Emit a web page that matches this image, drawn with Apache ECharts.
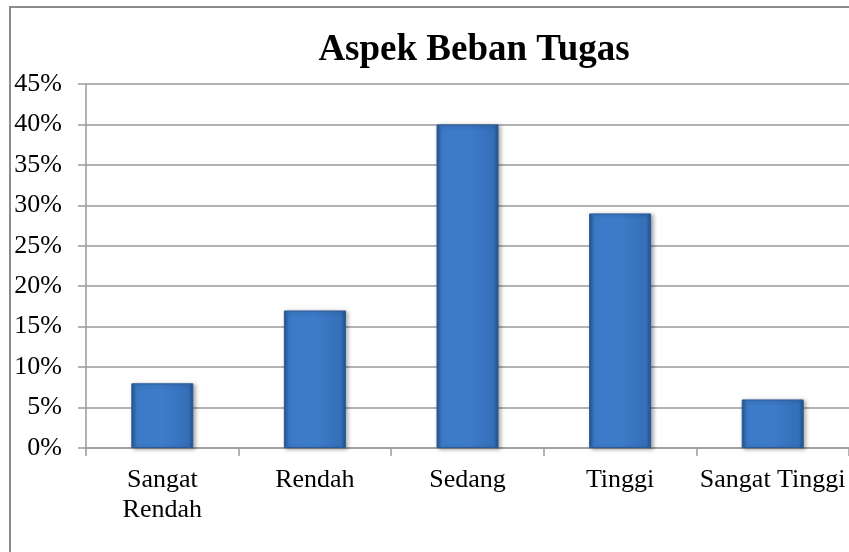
<!DOCTYPE html>
<html>
<head>
<meta charset="utf-8">
<script src="https://cdn.jsdelivr.net/npm/echarts@6/dist/echarts.min.js"></script>
<style>
  html, body { margin: 0; padding: 0; background: #fff; }
  #chart { width: 849px; height: 552px; }
</style>
</head>
<body>
<div id="chart"></div>
<script>
// data
const chartTitle = 'Aspek Beban Tugas'
const categories = ['Sangat\nRendah', 'Rendah', 'Sedang', 'Tinggi', 'Sangat Tinggi']
const percentValues = [8, 17, 40, 29, 6]
const yMax = 45
const yStep = 5

const serif = '"Liberation Serif", "DejaVu Serif", serif'
const gridColor = '#9a9a9a'

const barFill = new echarts.graphic.LinearGradient(0, 0, 1, 0, [
  { offset: 0, color: '#25548f' },
  { offset: 0.08, color: '#3c7ac7' },
  { offset: 0.5, color: '#3e7cca' },
  { offset: 0.92, color: '#346fb8' },
  { offset: 1, color: '#22508a' }
])

const chart = echarts.init(document.getElementById('chart'), null, { renderer: 'canvas' })

const option = {
  animation: false,
  backgroundColor: '#fff',
  title: {
    text: chartTitle,
    left: 469,
    top: 27,
    textAlign: 'center',
    textStyle: {
      fontFamily: serif,
      fontSize: 37,
      fontWeight: 'bold',
      color: '#000'
    }
  },
  graphic: [{
    type: 'rect',
    shape: { x: 10, y: 7, width: 900, height: 600 },
    style: { fill: 'none', stroke: '#8c8c8c', lineWidth: 2 },
    z: 100
  }],
  grid: {
    left: 86,
    top: 84,
    right: -4,
    bottom: 104,
    containLabel: false
  },
  xAxis: {
    type: 'category',
    data: categories,
    axisLine: { show: true, lineStyle: { color: gridColor, width: 1.5 } },
    axisTick: { show: true, length: 8, alignWithLabel: false, lineStyle: { color: gridColor, width: 1.5 } },
    axisLabel: {
      interval: 0,
      margin: 17,
      color: '#000',
      fontFamily: serif,
      fontSize: 26,
      lineHeight: 30
    }
  },
  yAxis: {
    type: 'value',
    min: 0,
    max: yMax,
    interval: yStep,
    axisLine: { show: true, lineStyle: { color: gridColor, width: 1.5 } },
    axisTick: { show: true, length: 8, lineStyle: { color: gridColor, width: 1.5 } },
    splitLine: { show: true, lineStyle: { color: gridColor, width: 1.5 } },
    axisLabel: {
      margin: 24,
      color: '#000',
      fontFamily: serif,
      fontSize: 26,
      formatter: '{value}%'
    }
  },
  series: [{
    type: 'bar',
    data: percentValues,
    barWidth: 62,
    itemStyle: {
      color: barFill,
      borderColor: '#2a5a98',
      borderWidth: 1,
      shadowBlur: 4,
      shadowOffsetX: 2,
      shadowOffsetY: 1,
      shadowColor: 'rgba(0, 0, 0, 0.35)'
    },
    emphasis: { disabled: true }
  }]
}

chart.setOption(option)
</script>
</body>
</html>
